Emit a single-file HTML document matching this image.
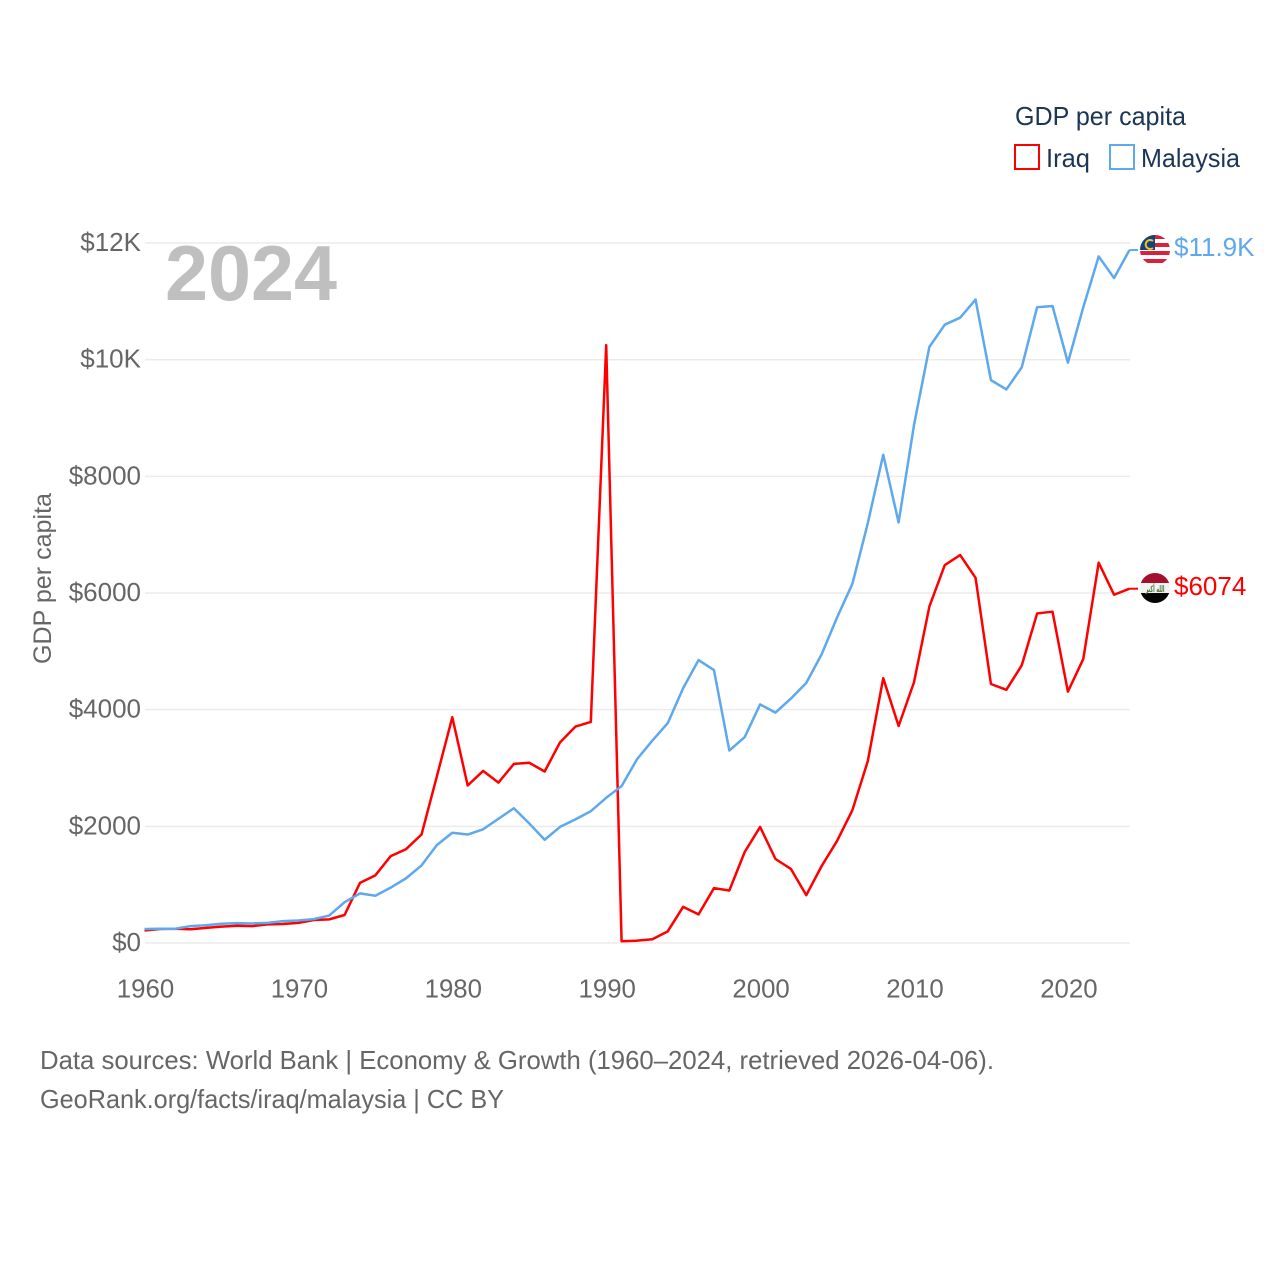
<!DOCTYPE html>
<html lang="en">
<head>
<meta charset="utf-8">
<title>GDP per capita: Iraq and Malaysia</title>
<style>
  html, body { margin: 0; padding: 0; background: #fff; }
  svg { display: block; font-family: "Liberation Sans", sans-serif; }
</style>
</head>
<body>
<svg id="chart" xmlns="http://www.w3.org/2000/svg" width="1280" height="1280" viewBox="0 0 1280 1280">
  <rect width="1280" height="1280" fill="#ffffff"/>
  <g id="grid"></g>
  <g id="y-ticks"></g>
  <g id="x-ticks"></g>
  <text x="165" y="300" font-size="78" font-weight="700" fill="#bfbfbf" textLength="172" lengthAdjust="spacingAndGlyphs">2024</text>
  <text transform="translate(51,578.5) rotate(-90)" text-anchor="middle" font-size="25" fill="#666666" textLength="171" lengthAdjust="spacingAndGlyphs">GDP per capita</text>
  <g id="series"></g>
  <g>
    <clipPath id="clip-my"><circle cx="1155" cy="250" r="15"/></clipPath>
    <g clip-path="url(#clip-my)">
      <rect x="1140" y="235" width="30" height="30" fill="#ffffff"/>
      <rect x="1140" y="235" width="30" height="4" fill="#d8213a"/>
      <rect x="1140" y="243" width="30" height="4" fill="#d8213a"/>
      <rect x="1140" y="251" width="30" height="4" fill="#d8213a"/>
      <rect x="1140" y="259" width="30" height="4" fill="#d8213a"/>
      <rect x="1140" y="235" width="15" height="15" fill="#14427f"/>
      <path d="M1153 241 A4.5 4.5 0 1 0 1153 248" fill="none" stroke="#f5c518" stroke-width="2"/>
    </g>
  </g>
  <g>
    <clipPath id="clip-iq"><circle cx="1155" cy="588" r="15"/></clipPath>
    <g clip-path="url(#clip-iq)">
      <rect x="1140" y="573" width="30" height="10" fill="#a3102e"/>
      <rect x="1140" y="583" width="30" height="10" fill="#f2f2f2"/>
      <rect x="1140" y="593" width="30" height="10" fill="#050505"/>
      <text x="1155" y="592" text-anchor="middle" font-size="9" font-weight="700" fill="#4f7a3a" style="font-family:'DejaVu Sans',sans-serif" textLength="19" lengthAdjust="spacingAndGlyphs">الله أكبر</text>
    </g>
  </g>
  <text id="label-malaysia" x="1174" y="256" font-size="26" fill="#5ea8ee"></text>
  <text id="label-iraq" x="1174" y="595" font-size="26" fill="#ff0000"></text>
  <g>
    <text x="1015" y="125" font-size="26" fill="#1a3556" textLength="171" lengthAdjust="spacingAndGlyphs">GDP per capita</text>
    <g>
      <rect x="1015" y="145" width="24" height="24" fill="#ffffff" stroke="#ff0000" stroke-width="2"/>
      <text x="1046" y="167" font-size="26" fill="#1a3556" textLength="44" lengthAdjust="spacingAndGlyphs">Iraq</text>
    </g>
    <g>
      <rect x="1110" y="145" width="24" height="24" fill="#ffffff" stroke="#5ea8ee" stroke-width="2"/>
      <text x="1141" y="167" font-size="26" fill="#1a3556" textLength="99" lengthAdjust="spacingAndGlyphs">Malaysia</text>
    </g>
  </g>
  <text x="40" y="1069" font-size="26" fill="#666666" textLength="954" lengthAdjust="spacingAndGlyphs">Data sources: World Bank | Economy &amp; Growth (1960–2024, retrieved 2026-04-06).</text>
  <text x="40" y="1108" font-size="26" fill="#666666" textLength="464" lengthAdjust="spacingAndGlyphs">GeoRank.org/facts/iraq/malaysia | CC BY</text>
</svg>
<script>
const firstYear = 1960;
const iraqValues = [215,240,245,235,260,280,295,290,320,325,345,395,405,480,1030,1160,1490,1610,1860,2860,3870,2700,2950,2750,3070,3090,2940,3440,3710,3790,10250,30,40,65,200,620,490,940,900,1560,1990,1440,1270,820,1320,1750,2280,3120,4540,3720,4470,5770,6480,6650,6260,4440,4340,4760,5650,5680,4310,4870,6520,5970,6074];
const malaysiaValues = [240,245,245,290,305,330,340,335,345,375,385,410,470,700,850,810,950,1110,1330,1680,1890,1860,1950,2130,2310,2050,1770,1990,2120,2260,2490,2690,3150,3470,3770,4370,4850,4680,3300,3530,4090,3950,4190,4460,4950,5580,6160,7200,8370,7210,8880,10220,10600,10720,11030,9650,9490,9870,10900,10920,9950,10900,11770,11400,11880];
const yTickValues = [0,2000,4000,6000,8000,10000,12000];
const yTickLabels = ["$0","$2000","$4000","$6000","$8000","$10K","$12K"];
const xTickValues = [1960,1970,1980,1990,2000,2010,2020];
const xTickLabels = ["1960","1970","1980","1990","2000","2010","2020"];
const iraqEndLabel = "$6074";
const malaysiaEndLabel = "$11.9K";

const NS = "http://www.w3.org/2000/svg";
function xScale(year) { return 144.5 + (year - 1960) * 15.39; }
function yScale(value) { return 943 - value * 0.05833; }
function make(tag, attrs, parent) {
  const el = document.createElementNS(NS, tag);
  for (const k in attrs) el.setAttribute(k, attrs[k]);
  parent.appendChild(el);
  return el;
}

const grid = document.getElementById("grid");
const yTicks = document.getElementById("y-ticks");
yTickValues.forEach(function (v, i) {
  const line = make("line", { x1: 145, x2: 1130, y1: yScale(v), y2: yScale(v), stroke: "#ebebeb", "stroke-width": 1.5 }, grid);
  
  
  const label = make("text", { x: 141, y: yScale(v) + 8, "text-anchor": "end", "font-size": 26, fill: "#666666" }, yTicks);
  
  
  label.textContent = yTickLabels[i];
});

const xTicks = document.getElementById("x-ticks");
xTickValues.forEach(function (y, i) {
  const label = make("text", { x: xScale(y) + 1, y: 997.5, "text-anchor": "middle", "font-size": 25.8, fill: "#666666" }, xTicks);
  
  
  label.textContent = xTickLabels[i];
});

function pathFor(values) {
  return values.map(function (v, i) {
    return (i ? "L" : "M") + xScale(firstYear + i).toFixed(2) + " " + yScale(v).toFixed(2);
  }).join(" ");
}
const series = document.getElementById("series");

const iraqLine = make("path", { d: pathFor(iraqValues), fill: "none", stroke: "#ff0000", "stroke-width": 2.5, "stroke-linejoin": "round" }, series);



const malaysiaLine = make("path", { d: pathFor(malaysiaValues), fill: "none", stroke: "#5ea8ee", "stroke-width": 2.5, "stroke-linejoin": "round" }, series);



const lastYear = firstYear + iraqValues.length - 1;
const iraqLast = iraqValues[iraqValues.length - 1];
const malaysiaLast = malaysiaValues[malaysiaValues.length - 1];

const iraqConnector = make("line", { x1: xScale(lastYear), x2: 1138, y1: yScale(iraqLast), y2: yScale(iraqLast), stroke: "#ff0000", "stroke-width": 2 }, series);



const malaysiaConnector = make("line", { x1: xScale(lastYear), x2: 1138, y1: yScale(malaysiaLast), y2: yScale(malaysiaLast), stroke: "#5ea8ee", "stroke-width": 2 }, series);



document.getElementById("label-iraq").textContent = iraqEndLabel;
document.getElementById("label-malaysia").textContent = malaysiaEndLabel;
</script>
</body>
</html>
